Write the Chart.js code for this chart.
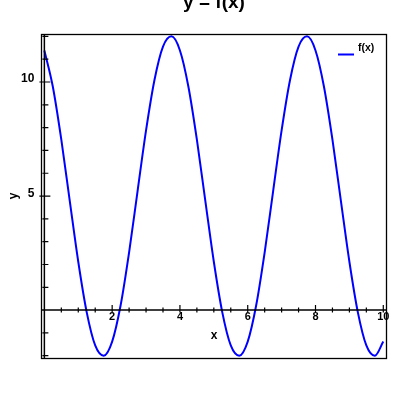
<!DOCTYPE html>
<html>
<head>
<meta charset="utf-8">
<style>
  html, body { margin: 0; padding: 0; background: #fff; }
  canvas { display: block; }
</style>
<script src="https://cdn.jsdelivr.net/npm/chart.js@4.4.1/dist/chart.umd.min.js"></script>
</head>
<body>
<canvas id="chart" width="400" height="400"></canvas>
<script>
// y = f(x) 곡선 차트
const chartTitle = 'y = f(x)';
const seriesLabel = 'f(x)';
const xTitle = 'x';
const yTitle = 'y';

// 그림에서 읽은 값 (0.25 간격)
const xValues = [
  0, 0.25, 0.5, 0.75, 1, 1.25, 1.5, 1.75, 2, 2.25, 2.5, 2.75, 3, 3.25, 3.5, 3.75,
  4, 4.25, 4.5, 4.75, 5, 5.25, 5.5, 5.75, 6, 6.25, 6.5, 6.75, 7, 7.25, 7.5, 7.75,
  8, 8.25, 8.5, 8.75, 9, 9.25, 9.5, 9.75, 10
];
const yValues = [
  11.38, 9.79, 7.47, 4.78, 2.12, -0.10, -1.55, -2.00, -1.38, 0.21, 2.53, 5.22, 7.88, 10.10, 11.55, 12.00,
  11.38, 9.79, 7.47, 4.78, 2.12, -0.10, -1.55, -2.00, -1.38, 0.21, 2.53, 5.22, 7.88, 10.10, 11.55, 12.00,
  11.38, 9.79, 7.47, 4.78, 2.12, -0.10, -1.55, -2.00, -1.38
];

// 눈금 라벨
const xTickLabels = [2, 4, 6, 8, 10];
const yTickLabels = [5, 10];
const xMinorStep = 0.5;
const yMinorStep = 1;

const FONT = '"Liberation Sans", Arial, sans-serif';

// 축(원점 통과), 눈금, 테두리, 제목, 범례 그리기
const axesPlugin = {
  id: 'axesPlugin',
  afterDraw(chart) {
    const { ctx, chartArea: ca, scales } = chart;
    const xs = scales.x, ys = scales.y;
    const x0 = xs.getPixelForValue(0);
    const y0 = ys.getPixelForValue(0);

    ctx.save();
    ctx.strokeStyle = '#000';

    // 테두리
    ctx.lineWidth = 1.3;
    ctx.strokeRect(ca.left - 0.5, ca.top - 0.5, ca.right - ca.left + 1, ca.bottom - ca.top + 1);

    // 축 선
    ctx.lineWidth = 1.5;
    ctx.beginPath();
    ctx.moveTo(ca.left, y0); ctx.lineTo(ca.right, y0);
    ctx.moveTo(x0, ca.top); ctx.lineTo(x0, ca.bottom);
    ctx.stroke();

    // x 눈금
    ctx.lineWidth = 1.2;
    ctx.beginPath();
    for (let v = xMinorStep; v <= xs.max + 1e-9; v += xMinorStep) {
      const px = xs.getPixelForValue(v);
      const major = xTickLabels.includes(Math.round(v * 100) / 100);
      ctx.moveTo(px, y0 - (major ? 5 : 2.5));
      ctx.lineTo(px, y0 + 2.5);
    }
    // y 눈금
    for (let v = Math.ceil(ys.min); v <= ys.max + 1e-9; v += yMinorStep) {
      if (v === 0) continue;
      const py = ys.getPixelForValue(v);
      const major = yTickLabels.includes(v);
      ctx.moveTo(x0 - (major ? 5 : 2), py);
      ctx.lineTo(x0 + (major ? 6 : 4), py);
    }
    ctx.stroke();

    // y 눈금 라벨
    ctx.fillStyle = '#000';
    ctx.font = 'bold 12px ' + FONT;
    ctx.textAlign = 'right';
    ctx.textBaseline = 'alphabetic';
    yTickLabels.forEach(v => {
      ctx.fillText(String(v), x0 - 10, ys.getPixelForValue(v) + 0.5);
    });

    // 제목
    const cx = (ca.left + ca.right) / 2;
    ctx.textAlign = 'center';
    ctx.font = 'bold 19px ' + FONT;
    ctx.fillText(chartTitle, cx, 8);

    // 축 제목
    ctx.font = 'bold 12px ' + FONT;
    ctx.textBaseline = 'middle';
    ctx.fillText(xTitle, cx, 336);
    ctx.save();
    ctx.translate(13.5, 196);
    ctx.rotate(-Math.PI / 2);
    ctx.fillText(yTitle, 0, 0);
    ctx.restore();

    // 범례
    const ds = chart.data.datasets[0];
    ctx.strokeStyle = ds.borderColor;
    ctx.lineWidth = 2;
    ctx.beginPath();
    ctx.moveTo(338, 54.5); ctx.lineTo(354, 54.5);
    ctx.stroke();
    ctx.font = 'bold 10.5px ' + FONT;
    ctx.textAlign = 'left';
    ctx.textBaseline = 'alphabetic';
    ctx.fillText(ds.label, 358, 50.5);

    ctx.restore();
  }
};

const ctx = document.getElementById('chart');
new Chart(ctx, {
  type: 'line',
  data: {
    datasets: [{
      label: seriesLabel,
      data: xValues.map((x, i) => ({ x, y: yValues[i] })),
      borderColor: '#0000ff',
      borderWidth: 2,
      pointRadius: 0,
      fill: false,
      cubicInterpolationMode: 'monotone'
    }]
  },
  options: {
    responsive: false,
    devicePixelRatio: 1,
    animation: false,
    layout: { padding: { left: 42, top: 35, right: 14, bottom: 42 } },
    plugins: {
      legend: { display: false },
      title: { display: false },
      tooltip: { enabled: false }
    },
    scales: {
      x: {
        type: 'linear',
        position: { y: 0 },
        min: -0.07,
        max: 10.08,
        grid: { display: false, drawTicks: false },
        border: { display: false },
        afterBuildTicks: (s) => { s.ticks = xTickLabels.map(v => ({ value: v })); },
        ticks: {
          color: '#000',
          padding: 0,
          maxRotation: 0,
          autoSkip: false,
          font: { family: FONT, size: 11, weight: 'bold' }
        }
      },
      y: {
        type: 'linear',
        position: { x: 0 },
        min: -2.1,
        max: 12.06,
        grid: { display: false, drawTicks: false },
        border: { display: false },
        afterBuildTicks: (s) => { s.ticks = yTickLabels.map(v => ({ value: v })); },
        ticks: { display: false }
      }
    }
  },
  plugins: [axesPlugin]
});
</script>
</body>
</html>
